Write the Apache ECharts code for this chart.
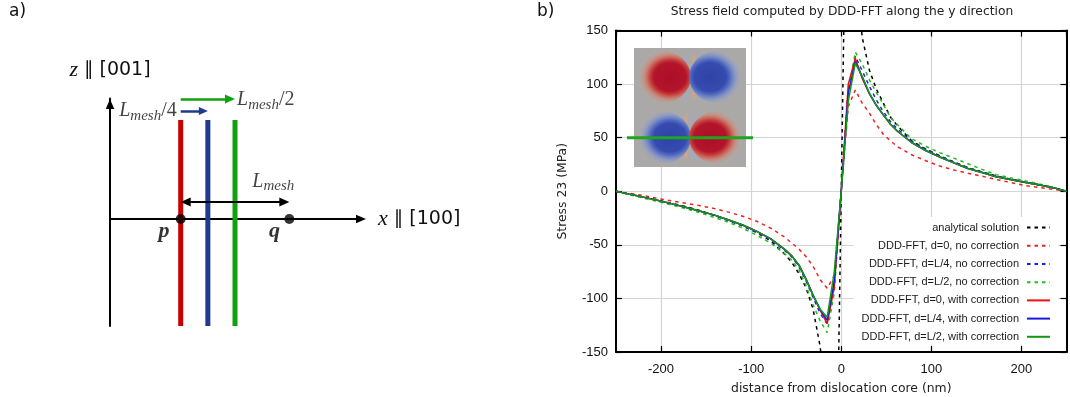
<!DOCTYPE html>
<html><head><meta charset="utf-8">
<script src="https://cdn.jsdelivr.net/npm/echarts@6/dist/echarts.min.js"></script>
<style>html,body{margin:0;padding:0;background:#fff}#c{width:1070px;height:397px}</style>
</head><body><div id="c"></div>
<script>
// ---------------- data (panel b) ----------------
const xNm = [-250,-234.4,-218.75,-203.1,-187.5,-171.9,-156.25,-140.6,-125,-109.4,-93.75,-78.1,-62.5,-54.7,-46.9,-39.1,-31.25,-23.4,-15.6,-7.8,0,
             7.8,15.6,23.4,31.25,39.1,46.9,54.7,62.5,78.1,93.75,109.4,125,140.6,156.25,171.9,187.5,203.1,218.75,234.4,250];
const analytical = [0,-2.8,-5.6,-8.4,-11.3,-14.5,-18.2,-22.5,-27.2,-32.3,-38.5,-46.5,-59,-66.5,-77,-90,-110,-145,-205,-420,null,
                    420,205,143,113,95,82,69,61,47,39.2,33,27.3,22,18,14.2,11.4,8.7,6.2,3.5,0];
const d0NoCorr = [0,-2,-4.2,-6.8,-9,-11.3,-13.6,-16.2,-19.5,-23.3,-28,-34.5,-43,-48.5,-54,-61,-70,-82.5,-90.5,-79,0,
                  79,94.5,82,73,62,53,47,41.5,34,28.5,23.5,19.8,16.8,14,11,8.3,5.5,3.6,1.8,0];
const dL4NoCorr = [0,-3,-5.9,-8.8,-12,-15.5,-19,-22.8,-27.5,-32.3,-38.5,-45.5,-55.5,-61.5,-70.5,-83.5,-99,-114,-124,-88,0,
                   95,126,112,98,85,74,65,58,47,39.5,33,27.3,22,18,14,11.2,8.6,6,3.3,0];
const dL2NoCorr = [0,-3.3,-6.5,-9.7,-13,-16.5,-20.2,-24.5,-29,-34.5,-41,-48.5,-58.5,-64.5,-73.5,-88,-106,-121,-132,-95,0,
                   92,130,118.5,104,92,80.5,69,62,49,42,36,30.9,25.7,20.4,15.5,12.6,10,7,3.8,0];
const d0Corr = [0,-2.9,-5.7,-8.6,-11.8,-15.2,-18.6,-22.3,-26.8,-31.5,-37.5,-44.5,-54.5,-60.5,-69,-82,-97,-111,-123.5,-90,0,
                100,124,105,91,80,71,62.5,56,45.5,38,32,26.5,21.2,17.5,13.6,11,8.4,6,3.6,0];
const dL4Corr = [0,-2.9,-5.7,-8.6,-11.8,-15.2,-18.6,-22.3,-26.8,-31.5,-37.5,-44.5,-54.5,-60.5,-69,-82,-97,-110.5,-120.5,-84,0,
                 92,121,106.5,91,80,71,62.5,56,45.5,38,32,26.5,21.2,17.5,13.6,11,8.4,6,3.6,0];
const dL2Corr = [0,-2.9,-5.7,-8.6,-11.8,-15.2,-18.6,-22.3,-26.8,-31.5,-37.5,-44.5,-54.5,-60.5,-69,-82,-97,-110,-117.5,-76,0,
                 84,119.5,107,91.5,80,71,62.5,56,45.5,38,32,26.5,21.2,17.5,13.6,11,8.4,6,3.6,0];
const seriesNames = ['analytical solution','DDD-FFT, d=0, no correction','DDD-FFT, d=L/4, no correction','DDD-FFT, d=L/2, no correction',
                     'DDD-FFT, d=0, with correction','DDD-FFT, d=L/4, with correction','DDD-FFT, d=L/2, with correction'];

// ---------------- data (panel a, units of L_mesh) ----------------
const dislocationX = [0, 0.25, 0.5];      // d = 0, L/4, L/2
const pqX = [0, 1];                        // points p and q (distance L_mesh)
const pqNames = ['p', 'q'];
const lineSpanZ = [-0.985, 0.912];
const shiftArrowZ = [0.994, 1.105];        // arrows for L/4 and L/2
const meshArrowZ = 0.157;

// ---------------- styles ----------------
const dash = [3.5, 4];
const styles = [
  {color:'#000000', type:dash}, {color:'#f02020', type:dash}, {color:'#1e1ee6', type:dash}, {color:'#22bb22', type:dash},
  {color:'#ee1111', type:'solid'}, {color:'#1a1ae0', type:'solid'}, {color:'#119911', type:'solid'}
];
const mainData = [analytical, d0NoCorr, dL4NoCorr, dL2NoCorr, d0Corr, dL4Corr, dL2Corr];
const dColors = ['#c80000', '#1f3a8f', '#10a010'];

const series = mainData.map((arr, k) => ({
  name: seriesNames[k], type:'line', xAxisIndex:0, yAxisIndex:0,
  data: xNm.map((x,i)=>[x, arr[i]]).filter(p=>p[1]!==null),
  symbol:'none', showSymbol:false, clip:true, silent:true,
  lineStyle:{color:styles[k].color, width:1.5, type:styles[k].type},
  itemStyle:{color:styles[k].color},
  emphasis:{disabled:true}, z:2
}));

// diagram geometry
const dxMin = -0.651, dxMax = 1.66, dyMin = -0.985, dyMax = 1.11;
const g2w = 251;
const pxPerUnit = g2w / (dxMax - dxMin);
const g2h = (dyMax - dyMin) * pxPerUnit;
const g2 = {left:110, top:326 - g2h, width:g2w, height:g2h};
const half = (px) => (px/2)/pxPerUnit;

dislocationX.forEach((d,i)=>{
  series.push({type:'line', xAxisIndex:2, yAxisIndex:2, data: lineSpanZ.map(z=>[d,z]), symbol:'none',
    lineStyle:{color:dColors[i], width:5}, silent:true, clip:false, z:3, emphasis:{disabled:true}});
});

const serifRich = {
  L:{fontFamily:'Liberation Serif', fontStyle:'italic', fontSize:20, color:'#111'},
  m:{fontFamily:'Liberation Serif', fontStyle:'italic', fontSize:15, color:'#111', padding:[10,0,0,0]},
  n:{fontFamily:'Liberation Serif', fontSize:20, color:'#111'}
};
const pqLabelPos = [[-11.7,17],[-9.8,17.7]];
series.push({
  type:'scatter', xAxisIndex:2, yAxisIndex:2, symbolSize:10, silent:true, z:5, clip:false,
  itemStyle:{color:'#000'},
  data: pqX.map((x,i)=>({value:[x,0], label:{show:true, formatter:pqNames[i], position:pqLabelPos[i], align:'center', verticalAlign:'middle',
     fontFamily:'Liberation Serif', fontStyle:'italic', fontWeight:'bold', fontSize:22, color:'#000'}})),
  markLine:{
    silent:true, animation:false, label:{show:false}, symbol:['none','triangle'],
    data:[
      [{coord:[pqX[0]+half(10), meshArrowZ], symbol:'triangle', symbolSize:[9,10], lineStyle:{color:'#000', width:1.8, type:'solid'}},
       {coord:[pqX[1]-half(10), meshArrowZ], symbol:'triangle', symbolSize:[9,10]}],
      [{coord:[dislocationX[0], shiftArrowZ[0]], symbol:'none', lineStyle:{color:dColors[1], width:2.5, type:'solid'}},
       {coord:[dislocationX[1]-half(9), shiftArrowZ[0]], symbol:'triangle', symbolSize:[8,9]}],
      [{coord:[dislocationX[0], shiftArrowZ[1]], symbol:'none', lineStyle:{color:dColors[2], width:2.5, type:'solid'}},
       {coord:[dislocationX[2]-half(10), shiftArrowZ[1]], symbol:'triangle', symbolSize:[9,10]}]
    ]
  }
});
series.push({
  type:'scatter', xAxisIndex:2, yAxisIndex:2, symbolSize:0, silent:true, z:6, clip:false,
  data:[
    {value:[dislocationX[0], shiftArrowZ[0]], label:{show:true, formatter:'{L|L}{m|mesh}{n|/4}', position:[-4,0], align:'right', verticalAlign:'middle', rich:serifRich}},
    {value:[dislocationX[2], shiftArrowZ[1]], label:{show:true, formatter:'{L|L}{m|mesh}{n|/2}', position:[2,1], align:'left', verticalAlign:'middle', rich:serifRich}},
    {value:[pqX[1], meshArrowZ], label:{show:true, formatter:'{L|L}{m|mesh}', position:[5,-8], align:'right', verticalAlign:'bottom', rich:serifRich}}
  ]
});

// inset picture (stress map thumbnail)
const gEls = [];
gEls.push({type:'rect', shape:{x:634, y:48, width:112, height:119}, style:{fill:'#aba9a8'}, z:10, silent:true});
function stops(warm){
  return warm
    ? [{offset:0,color:'#ab0e27'},{offset:0.5,color:'#b2152b'},{offset:0.62,color:'#c63f3a'},{offset:0.8,color:'rgba(214,125,105,0.6)'},{offset:1,color:'rgba(190,165,158,0)'}]
    : [{offset:0,color:'#2f43a7'},{offset:0.5,color:'#364baf'},{offset:0.62,color:'#526bc0'},{offset:0.8,color:'rgba(125,145,208,0.6)'},{offset:1,color:'rgba(160,170,195,0)'}];
}
function lobe(cx, cy, warm, gx){
  gEls.push({type:'circle', shape:{cx:0, cy:0, r:30}, x:cx, y:cy, scaleX:1, scaleY:0.88, z:12, silent:true,
    style:{fill:{type:'radial', x:gx, y:0.5, r:0.54, colorStops:stops(warm)}}});
}
function small(cx, cy, col){
  gEls.push({type:'circle', shape:{cx:0, cy:0, r:5}, x:cx, y:cy, scaleX:0.7, scaleY:2.0, z:11, silent:true,
    style:{fill:{type:'radial', x:0.5, y:0.5, r:0.5, colorStops:[{offset:0,color:col},{offset:1,color:'rgba(170,170,170,0)'}]}}});
}
const rowsY = [77, 137.5];
const lb = 'rgba(150,170,225,0.85)', lo = 'rgba(235,160,110,0.85)';
small(686, rowsY[0]-17, lb); small(694, rowsY[0]-17, lo); small(686, rowsY[0]+17, lb); small(694, rowsY[0]+17, lo);
small(686, rowsY[1]-17, lo); small(694, rowsY[1]-17, lb); small(686, rowsY[1]+17, lo); small(694, rowsY[1]+17, lb);
lobe(661, rowsY[0], true, 0.65);  lobe(719, rowsY[0], false, 0.35);
lobe(661, rowsY[1], false, 0.65); lobe(719, rowsY[1], true, 0.35);
gEls.push({type:'line', shape:{x1:627, y1:137.7, x2:753, y2:137.7}, style:{stroke:'#1ea51e', lineWidth:3}, z:14, silent:true});

const blackAxis = {show:true, onZero:false, lineStyle:{color:'#000', width:2}};
const inTick = {show:true, inside:true, length:6, lineStyle:{color:'#000', width:1.2}};
const tickFont = {fontFamily:'Liberation Sans', fontSize:13, color:'#111'};
const nameFont = {fontFamily:'DejaVu Sans', fontSize:12.4, color:'#222'};
const axisRich = {
  i:{fontFamily:'Liberation Serif', fontStyle:'italic', fontSize:22, color:'#111'},
  s:{fontFamily:'DejaVu Sans', fontSize:19, color:'#111'}
};

const option = {
  animation:false,
  backgroundColor:'#fff',
  title:[
    {text:'a)', left:9, top:3, padding:0, textStyle:{fontFamily:'DejaVu Sans', fontSize:17, fontWeight:'normal', color:'#111'}},
    {text:'b)', left:537, top:3, padding:0, textStyle:{fontFamily:'DejaVu Sans', fontSize:17, fontWeight:'normal', color:'#111'}},
    {text:'Stress field computed by DDD-FFT along the y direction', left:842, top:6, padding:0, textAlign:'center',
     textStyle:{fontFamily:'DejaVu Sans', fontSize:12.3, fontWeight:'normal', color:'#222'}}
  ],
  legend:{
    data:seriesNames, orient:'vertical', right:12, top:217, align:'right',
    itemWidth:23, itemHeight:14, itemGap:7, padding:[5,7,2,8], backgroundColor:'#fff',
    selectedMode:false, itemStyle:{opacity:0},
    textStyle:{fontFamily:'Liberation Sans', fontSize:11, color:'#1a1a1a', padding:[0,3,0,0]}
  },
  grid:[
    {left:616, top:30.5, width:450.5, height:321.5, containLabel:false, outerBoundsMode:'none'},
    {left:g2.left, top:g2.top, width:g2.width, height:g2.height, containLabel:false, outerBoundsMode:'none'}
  ],
  xAxis:[
    {gridIndex:0, type:'value', min:-250, max:250, splitNumber:5, position:'bottom',
     axisLine:blackAxis, axisTick:inTick,
     axisLabel:Object.assign({show:true, showMinLabel:false, showMaxLabel:false, margin:11}, tickFont),
     splitLine:{show:true, lineStyle:{color:'#d4d4d4', width:1.2}},
     name:'distance from dislocation core (nm)', nameLocation:'middle', nameGap:31, nameTextStyle:nameFont},
    {gridIndex:0, type:'value', min:-250, max:250, splitNumber:5, position:'top',
     axisLine:blackAxis, axisTick:inTick, axisLabel:{show:false}, splitLine:{show:false}},
    {gridIndex:1, type:'value', min:dxMin, max:dxMax,
     axisLine:{show:true, onZero:true, symbol:['none','triangle'], symbolSize:[8.5,10], lineStyle:{color:'#000', width:2}},
     axisTick:{show:false}, axisLabel:{show:false}, splitLine:{show:false},
     name:'{i|x}{s| ∥ [100]}', nameLocation:'end', nameGap:17, nameTextStyle:{rich:axisRich}}
  ],
  yAxis:[
    {gridIndex:0, type:'value', min:-150, max:150, interval:50, position:'left',
     axisLine:blackAxis, axisTick:inTick, axisLabel:Object.assign({show:true, margin:8}, tickFont),
     splitLine:{show:true, lineStyle:{color:'#d4d4d4', width:1.2}},
     name:'Stress 23 (MPa)', nameLocation:'middle', nameGap:47, nameTextStyle:nameFont},
    {gridIndex:0, type:'value', min:-150, max:150, interval:50, position:'right',
     axisLine:blackAxis, axisTick:inTick, axisLabel:{show:false}, splitLine:{show:false}},
    {gridIndex:1, type:'value', min:dyMin, max:dyMax,
     axisLine:{show:true, onZero:false, symbol:['none','triangle'], symbolSize:[8.5,10], symbolOffset:[0,-5.5], lineStyle:{color:'#000', width:2}},
     axisTick:{show:false}, axisLabel:{show:false}, splitLine:{show:false},
     name:'{i|z}{s| ∥ [001]}', nameLocation:'end', nameGap:17, nameTextStyle:{rich:axisRich}}
  ],
  graphic:{elements:gEls},
  series:series
};
const chart = echarts.init(document.getElementById('c'), null, {renderer:'canvas'});
chart.setOption(option);
</script></body></html>
